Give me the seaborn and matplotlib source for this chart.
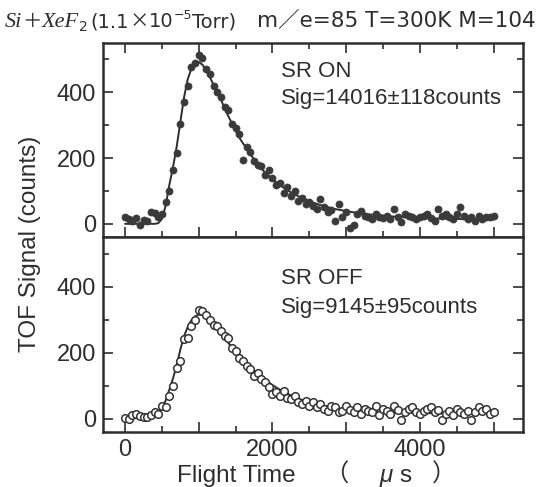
import matplotlib
matplotlib.use("Agg")
import matplotlib.pyplot as plt
import seaborn as sns
import pandas as pd
from matplotlib.ticker import FixedLocator, MultipleLocator

# ---------------- data ----------------
flight_time = list(range(0, 5001, 50))  # channel times (us)

sr_on_counts = [
    22, 15, 8, 18, -5, 12, 8, 35, 32, 20,
    30, 65, 100, 165, 215, 305, 370, 420, 478, 488,
    512, 505, 470, 455, 420, 400, 385, 355, 345, 305,
    290, 272, 195, 235, 218, 190, 180, 175, 150, 165,
    140, 118, 125, 95, 112, 85, 100, 70, 78, 60,
    65, 55, 45, 75, 50, 35, 42, 10, 60, 20,
    35, -12, -5, 30, 40, 25, 20, 15, 30, 22,
    18, 25, 15, 45, 20, 5, 30, 25, 20, 15,
    20, 25, 30, 18, 10, 45, 25, 30, 20, 15,
    30, 50, 25, 15, 20, 10, 25, 15, 20, 22,
    25]

sr_on_fit = [
    0, 0, 0, 0, 0, 0, 0, 0, 0, 2,
    15, 55, 118, 172, 235, 310, 385, 440, 472, 488,
    492, 484, 466, 446, 423, 400, 378, 352, 328, 305,
    283, 262, 245, 228, 212, 196, 182, 168, 156, 146,
    136, 127, 118, 110, 103, 96, 90, 84, 79, 74,
    69, 65, 61, 57, 54, 51, 48, 45, 43, 41,
    39, 37, 35, 33, 32, 31, 29, 28, 27, 26,
    25, 24, 23, 22, 22, 21, 20, 20, 19, 19,
    18, 18, 17, 17, 17, 16, 16, 16, 15, 15,
    15, 15, 14, 14, 14, 14, 13, 13, 13, 13,
    13]

sr_off_counts = [
    3, 0, 12, 15, 8, 5, 5, 10, 20, 15,
    40, 35, 70, 100, 155, 175, 240, 245, 280, 300,
    330, 325, 315, 300, 285, 280, 265, 250, 245, 215,
    205, 185, 175, 160, 150, 130, 140, 120, 110, 95,
    75, 80, 70, 85, 62, 60, 70, 50, 45, 55,
    40, 50, 35, 45, 30, 25, 38, 35, 20, 25,
    40, 28, 22, 35, 15, 30, 25, 20, 38, 10,
    30, 25, 15, 40, 28, -5, 20, 30, 35, 20,
    15, 25, 30, 35, 20, 28, -5, 15, 25, 10,
    30, 20, 15, 25, -5, 20, 35, 25, 30, 15,
    20]

sr_off_fit = [
    5, 7, 8, 9, 10, 10, 11, 12, 14, 20,
    32, 55, 88, 122, 162, 210, 250, 278, 298, 310,
    315, 314, 308, 298, 285, 271, 258, 244, 230, 216,
    203, 191, 178, 167, 156, 146, 136, 127, 118, 110,
    102, 95, 88, 82, 76, 71, 66, 61, 57, 53,
    50, 47, 44, 41, 39, 37, 35, 33, 31, 30,
    29, 28, 27, 26, 25, 24, 23, 22, 22, 21,
    21, 20, 20, 19, 19, 19, 18, 18, 18, 18,
    17, 17, 17, 17, 17, 16, 16, 16, 16, 16,
    16, 16, 15, 15, 15, 15, 15, 15, 15, 15,
    15]

panel_labels = ["SR ON", "SR OFF"]
sig_labels = ["Sig=14016\u00b1118counts", "Sig=9145\u00b195counts"]
x_tick_values = [0, 1000, 2000, 3000, 4000, 5000]
x_tick_labels = ["0", "", "2000", "", "4000", ""]
y_tick_values = [0, 200, 400]
y_tick_labels = ["0", "200", "400"]

# ---------------- style ----------------
sns.set_theme(style="ticks")
plt.rcParams['font.family'] = ['Liberation Sans', 'Noto Sans CJK JP', 'DejaVu Sans']
ink = '#2e2e2e'

W, H = 539, 487
fig = plt.figure(figsize=(W / 100, H / 100), dpi=100)
left, right = 103 / W, 523 / W
top, mid, bot = 1 - 43 / H, 1 - 237 / H, 1 - 432 / H
ax1 = fig.add_axes([left, mid, right - left, top - mid])
ax2 = fig.add_axes([left, bot, right - left, mid - bot])

df_on = pd.DataFrame({"t": flight_time, "c": sr_on_counts, "f": sr_on_fit})
df_off = pd.DataFrame({"t": flight_time, "c": sr_off_counts, "f": sr_off_fit})

sns.lineplot(data=df_on, x="t", y="f", ax=ax1, color=ink, lw=1.4, zorder=2)
sns.scatterplot(data=df_on, x="t", y="c", ax=ax1, s=26, color='#3a3a3a',
                edgecolor='#3a3a3a', linewidth=0.5, zorder=3)
sns.lineplot(data=df_off, x="t", y="f", ax=ax2, color=ink, lw=1.4, zorder=2)
sns.scatterplot(data=df_off, x="t", y="c", ax=ax2, s=30, facecolor='white',
                edgecolor='#333333', linewidth=1.1, zorder=3)

for i, ax in enumerate((ax1, ax2)):
    ax.set_xlim(-300, 5400)
    ax.set_ylim(-40, 550)
    ax.set_xlabel("")
    ax.set_ylabel("")
    for s in ax.spines.values():
        s.set_linewidth(1.8)
        s.set_color(ink)
        s.set_visible(True)
    ax.xaxis.set_major_locator(FixedLocator(x_tick_values))
    ax.xaxis.set_minor_locator(MultipleLocator(500))
    ax.yaxis.set_major_locator(FixedLocator(y_tick_values))
    ax.yaxis.set_minor_locator(MultipleLocator(100))
    ax.set_yticklabels(y_tick_labels)
    ax.tick_params(which='both', direction='in', color=ink, width=1.2,
                   labelcolor=ink, labelsize=17, right=True, pad=5)
    ax.tick_params(which='major', length=7)
    ax.tick_params(which='minor', length=4.5)
    ax.text(2120, [446, 409][i], panel_labels[i], fontsize=16, color=ink,
            va='baseline', ha='left')
    ax.text(2120, [366, 321][i], sig_labels[i], fontsize=16, color=ink,
            va='baseline', ha='left')

ax1.tick_params(which='both', top=True, bottom=True, labelbottom=False)
ax2.tick_params(which='both', top=False, bottom=True)
ax2.set_xticklabels(x_tick_labels)

fig.text(30 / W, 1 - 244 / H, "TOF Signal (counts)", rotation=90, fontsize=17.5,
         color=ink, ha='center', va='center')

# x-axis label in pieces (wide spacing as in the original)
xl_base = 1 - 482 / H
xl_kw = dict(fontsize=17.5, color=ink, va='baseline',
             family=['Liberation Sans', 'Noto Sans CJK JP'])
fig.text(177 / W, xl_base, "Flight Time", ha='left', **xl_kw)
fig.text(336 / W, xl_base, "\uff08", ha='center', **xl_kw)
fig.text(386 / W, xl_base, "\u03bc", ha='center', style='italic', **xl_kw)
fig.text(405 / W, xl_base, "s", ha='center', **xl_kw)
fig.text(444 / W, xl_base, "\uff09", ha='center', **xl_kw)

# ---------------- title built from pieces ----------------
fig.canvas.draw()
rend = fig.canvas.get_renderer()
base = 27


def put(x, s, y=base, **kw):
    t = fig.text(x / W, 1 - y / H, s, va='baseline', ha='left', color=ink, **kw)
    return t.get_window_extent(renderer=rend).x1


x = 5
x = put(x, "Si", family='Liberation Serif', style='italic', size=16)
x = put(x, "\uff0b", family='Noto Sans CJK JP', size=14)
x = put(x, "XeF", family='Liberation Serif', style='italic', size=16)
x = put(x, "2", family='DejaVu Sans', size=10, y=base + 4)
x = put(x + 3, "(1.1", family='DejaVu Sans', size=14)
x = put(x, "\u00d7", family='Noto Sans CJK JP', size=14)
x = put(x, "10", family='DejaVu Sans', size=14)
x = put(x, "\u22125", family='DejaVu Sans', size=9, y=base - 8)
x = put(x, "Torr)", family='DejaVu Sans', size=14)
fig.text(536 / W, 1 - base / H, "m\uff0fe=85 T=300K M=104", va='baseline', ha='right',
         color=ink, size=15.5, family=['DejaVu Sans', 'Noto Sans CJK JP'])

fig.savefig("out.png", dpi=100)
